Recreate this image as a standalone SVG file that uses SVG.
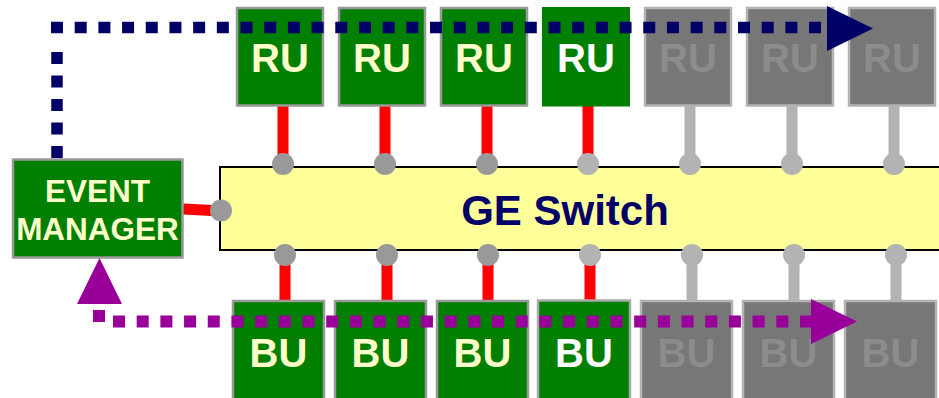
<svg xmlns="http://www.w3.org/2000/svg" width="939" height="398" viewBox="0 0 939 398">
<style>
.lbl{font-family:"Liberation Sans",Arial,sans-serif;font-weight:bold;text-anchor:middle}
.gbox{fill:#007f00;stroke:#999999;stroke-width:2.5}
.xbox{fill:#777777;stroke:#b3b3b3;stroke-width:2.5}
.gt{fill:#ffffcc;font-size:40px}
.wt{fill:#ffffff;font-size:40px}
.xt{fill:#8c8c8c;font-size:40px}
.red{stroke:#ff0000;stroke-width:11}
.gry{stroke:#b3b3b3;stroke-width:11}
.dk{fill:#999999}
.lt{fill:#b3b3b3}
</style>
<g id="switch">
<rect x="220" y="167" width="725" height="83" fill="#ffff99" stroke="#000000" stroke-width="2"/>
<text class="lbl" x="565" y="224.5" font-size="42" fill="#000066">GE Switch</text>
</g>
<g id="connectors">
<line class="red" x1="183" y1="209" x2="221" y2="211"/>
<line class="red" x1="283" y1="106" x2="283" y2="164"/>
<line class="red" x1="385" y1="106" x2="385" y2="164"/>
<line class="red" x1="487" y1="106" x2="487" y2="164"/>
<line class="red" x1="588" y1="106" x2="588" y2="164"/>
<line class="gry" x1="690" y1="106" x2="690" y2="164"/>
<line class="gry" x1="792" y1="106" x2="792" y2="164"/>
<line class="gry" x1="894" y1="106" x2="894" y2="164"/>
<line class="red" x1="285" y1="255" x2="285" y2="301"/>
<line class="red" x1="387" y1="255" x2="387" y2="301"/>
<line class="red" x1="488" y1="255" x2="488" y2="301"/>
<line class="red" x1="590" y1="255" x2="590" y2="301"/>
<line class="gry" x1="692" y1="255" x2="692" y2="301"/>
<line class="gry" x1="794" y1="255" x2="794" y2="301"/>
<line class="gry" x1="896" y1="255" x2="896" y2="301"/>
<circle class="dk" cx="221" cy="210.5" r="11"/>
<circle class="dk" cx="283" cy="164" r="11"/>
<circle class="dk" cx="385" cy="164" r="11"/>
<circle class="dk" cx="487" cy="164" r="11"/>
<circle class="lt" cx="588" cy="164" r="11"/>
<circle class="lt" cx="690" cy="164" r="11"/>
<circle class="lt" cx="792" cy="164" r="11"/>
<circle class="lt" cx="894" cy="164" r="11"/>
<circle class="dk" cx="285" cy="255" r="11"/>
<circle class="dk" cx="387" cy="255" r="11"/>
<circle class="dk" cx="488" cy="255" r="11"/>
<circle class="lt" cx="590" cy="255" r="11"/>
<circle class="lt" cx="692" cy="255" r="11"/>
<circle class="lt" cx="794" cy="255" r="11"/>
<circle class="lt" cx="896" cy="255" r="11"/>
</g>
<g id="event-manager">
<rect class="gbox" x="13" y="159.5" width="169.5" height="98"/>
<text class="lbl" x="97.5" y="201.5" font-size="31.5" fill="#ffffcc">EVENT</text>
<text class="lbl" x="97.5" y="239.5" font-size="31.5" fill="#ffffcc">MANAGER</text>
</g>
<g id="ru1"><rect class="gbox" x="237" y="8" width="86" height="97.5"/><text class="lbl gt" x="280" y="72">RU</text></g>
<g id="ru2"><rect class="gbox" x="339" y="8" width="86" height="97.5"/><text class="lbl gt" x="382" y="72">RU</text></g>
<g id="ru3"><rect class="gbox" x="441" y="8" width="86" height="97.5"/><text class="lbl gt" x="484" y="72">RU</text></g>
<g id="ru4"><rect x="542" y="7" width="88" height="99.5" fill="#007f00"/><text class="lbl wt" x="586" y="72">RU</text></g>
<g id="ru5"><rect class="xbox" x="645" y="8" width="86" height="97.5"/><text class="lbl xt" x="688" y="72">RU</text></g>
<g id="ru6"><rect class="xbox" x="747" y="8" width="86" height="97.5"/><text class="lbl xt" x="790" y="72">RU</text></g>
<g id="ru7"><rect class="xbox" x="849" y="8" width="86" height="97.5"/><text class="lbl xt" x="892" y="72">RU</text></g>
<g id="bu1"><rect class="gbox" x="233" y="301" width="91" height="99"/><text class="lbl gt" x="278.5" y="367">BU</text></g>
<g id="bu2"><rect class="gbox" x="335" y="301" width="91" height="99"/><text class="lbl gt" x="380.5" y="367">BU</text></g>
<g id="bu3"><rect class="gbox" x="437" y="301" width="91" height="99"/><text class="lbl gt" x="482.5" y="367">BU</text></g>
<g id="bu4"><rect x="538" y="300.5" width="92" height="100" fill="#007f00" stroke="#aaaaaa" stroke-width="2.5"/><text class="lbl wt" x="584" y="367">BU</text></g>
<g id="bu5"><rect class="xbox" x="641" y="301" width="91" height="99"/><text class="lbl xt" x="686.5" y="367">BU</text></g>
<g id="bu6"><rect class="xbox" x="743" y="301" width="91" height="99"/><text class="lbl xt" x="788.5" y="367">BU</text></g>
<g id="bu7"><rect class="xbox" x="845" y="301" width="91" height="99"/><text class="lbl xt" x="890.5" y="367">BU</text></g>
<g id="flows">
<path d="M57 158 V52" fill="none" stroke="#000066" stroke-width="11.5" stroke-dasharray="12 11.5"/>
<path d="M51 27.5 H821" fill="none" stroke="#000066" stroke-width="11.5" stroke-dasharray="12 11.69"/>
<polygon points="827,6 873,28.5 827,51" fill="#000066"/>
<polygon points="77,304 99.5,258 122,304" fill="#990099"/>
<rect x="93" y="310" width="12" height="12" fill="#990099"/>
<path d="M113 321.5 H812" fill="none" stroke="#990099" stroke-width="12" stroke-dasharray="12 11.69"/>
<polygon points="811,299 857,321.5 811,344" fill="#990099"/>
</g>
</svg>
